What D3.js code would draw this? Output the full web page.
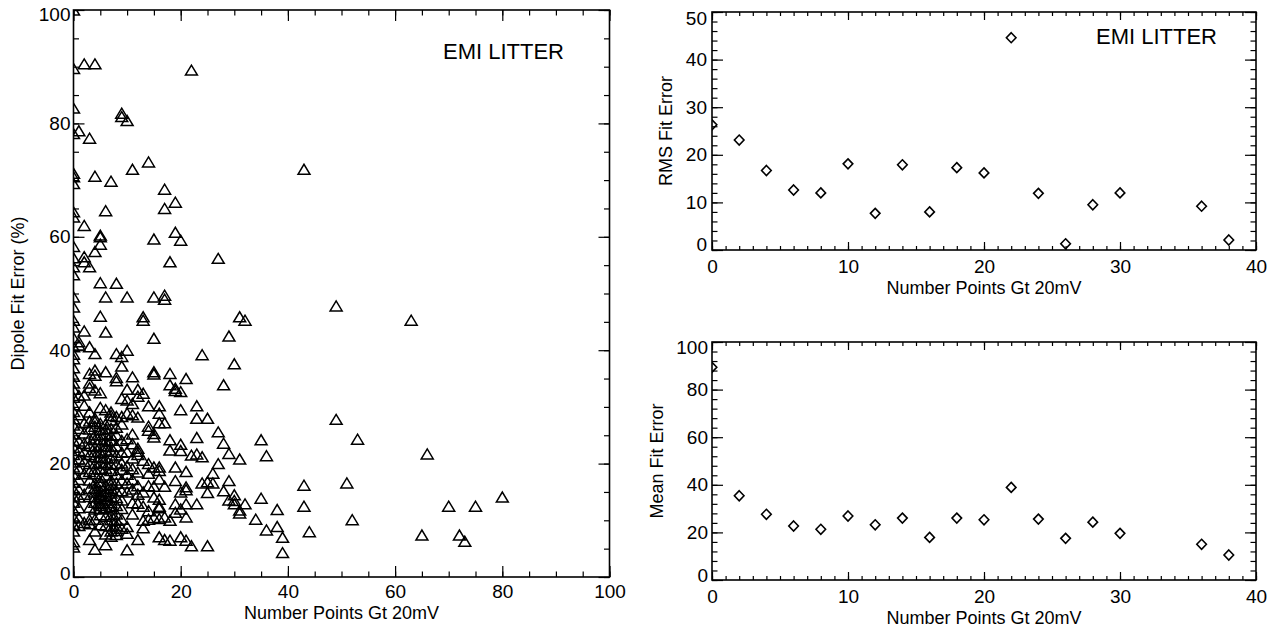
<!DOCTYPE html>
<html>
<head>
<meta charset="utf-8">
<script src="https://cdn.jsdelivr.net/npm/d3@7"></script>
<style>
  body { margin: 0; background: #fff; }
  svg { display: block; font-family: "Liberation Sans", Arial, Helvetica, sans-serif; }
</style>
</head>
<body>
<svg id="chart" width="1268" height="632"></svg>
<script>
// ---- Data -------------------------------------------------------------
// Each anomaly: [number of points above 20 mV, dipole fit error in %]
const dipolePoints = [
  [0,100],[0,89.7],[0,82.7],[0,78.2],[0,71.2],[0,70.6],[0,69.4],[0,64.4],[0,63.5],[0,58.3],
  [0,56.3],[0,54.7],[0,53.3],[0,49.4],[0,47.6],[0,45.3],[0,44.1],[0,42.2],[0,40.6],[0,39.3],
  [0,38.5],[0,36.9],[0,35.4],[0,34.2],[0,33.1],[0,31.7],[0,30.4],[0,29.2],[0,27.9],[0,26.8],
  [0,25.2],[0,24.1],[0,22.9],[0,21.6],[0,20.3],[0,19.4],[0,18.1],[0,16.7],[0,15.5],[0,14.3],
  [0,13.2],[0,11.8],[0,10.6],[0,9.3],[0,8.1],[0,6.2],[0,5.3],
  [1,78.7],[1,41.5],[1,40.9],[1,32.0],[1,28.6],[1,26.2],[1,24.0],[1,22.3],[1,20.8],[1,19.1],
  [1,17.2],[1,15.4],[1,14.1],[1,12.2],[1,10.4],[1,9.1],
  [2,90.5],[2,62.0],[2,56.5],[2,55.6],[2,43.4],[2,32.1],[2,30.3],[2,27.2],[2,25.4],[2,23.6],
  [2,22.1],[2,20.4],[2,18.2],[2,14.6],[2,9.6],
  [3,77.4],[3,54.7],[3,40.6],[3,35.9],[3,34.2],[3,33.4],[3,29.1],[3,27.5],[3,26.1],[3,24.5],
  [3,23.2],[3,21.6],[3,20.0],[3,18.6],[3,17.1],[3,15.6],[3,14.2],[3,12.3],[3,10.1],[3,9.4],[3,6.6],
  [4,90.5],[4,70.7],[4,57.4],[4,39.4],[4,36.5],[4,35.6],[4,33.0],[4,28.0],[4,27.4],[4,26.6],
  [4,25.1],[4,24.2],[4,23.0],[4,22.1],[4,21.2],[4,20.0],[4,19.1],[4,18.2],[4,16.6],[4,15.7],
  [4,15.0],[4,14.1],[4,13.2],[4,12.0],[4,10.2],[4,8.1],[4,4.9],
  [5,60.3],[5,60.0],[5,58.7],[5,51.9],[5,46.0],[5,32.5],[5,29.9],[5,27.1],[5,26.0],[5,25.1],
  [5,24.3],[5,23.2],[5,22.0],[5,21.1],[5,20.2],[5,19.0],[5,17.6],[5,16.8],[5,16.1],[5,15.2],
  [5,14.6],[5,14.2],[5,13.9],[5,13.0],[5,12.6],[5,12.1],[5,11.0],[5,9.2],
  [6,64.6],[6,49.4],[6,43.2],[6,36.2],[6,29.5],[6,27.0],[6,26.1],[6,25.2],[6,24.0],[6,23.1],
  [6,22.4],[6,21.0],[6,20.1],[6,19.2],[6,18.0],[6,16.2],[6,15.1],[6,14.4],[6,13.6],[6,12.2],
  [6,10.7],[6,9.1],[6,7.6],[6,5.7],
  [7,69.8],[7,29.1],[7,28.5],[7,27.7],[7,26.2],[7,25.0],[7,24.1],[7,23.0],[7,22.2],[7,21.0],
  [7,19.9],[7,18.8],[7,17.1],[7,16.3],[7,15.6],[7,14.8],[7,14.2],[7,13.1],[7,12.5],[7,12.0],
  [7,11.0],[7,10.1],[7,9.0],[7,8.1],[7,7.2],
  [8,51.8],[8,39.4],[8,35.2],[8,34.6],[8,28.3],[8,26.4],[8,25.1],[8,23.1],[8,21.5],[8,20.0],
  [8,18.1],[8,16.6],[8,15.2],[8,14.0],[8,12.6],[8,11.1],[8,10.0],[8,9.1],[8,8.2],[8,7.5],
  [9,81.8],[9,81.2],[9,38.9],[9,37.2],[9,31.5],[9,28.3],[9,27.0],[9,24.1],[9,22.0],[9,20.1],
  [9,19.0],[9,17.1],[9,15.2],[9,13.6],[9,12.1],[9,10.2],[9,8.6],
  [10,80.5],[10,49.4],[10,40.0],[10,33.1],[10,31.2],[10,28.9],[10,24.4],[10,22.1],[10,19.6],
  [10,18.1],[10,16.6],[10,15.0],[10,8.9],[10,7.7],[10,4.8],
  [11,71.9],[11,35.3],[11,30.6],[11,28.6],[11,25.2],[11,23.5],[11,21.0],[11,19.1],[11,17.2],
  [11,15.5],[11,13.1],[11,11.1],
  [12,33.1],[12,31.9],[12,28.2],[12,22.7],[12,22.2],[12,21.6],[12,18.5],[12,16.1],[12,14.6],
  [12,13.0],[12,6.6],
  [13,45.9],[13,45.3],[13,32.4],[13,20.6],[13,15.0],[13,12.5],[13,10.0],[13,8.7],
  [14,73.2],[14,30.2],[14,26.6],[14,25.9],[14,20.0],[14,18.3],[14,16.1],[14,11.7],[14,10.2],
  [15,59.6],[15,49.4],[15,42.1],[15,36.2],[15,35.8],[15,25.3],[15,24.7],[15,19.4],[15,16.0],
  [15,14.1],[15,10.5],
  [16,30.2],[16,28.9],[16,27.2],[16,19.4],[16,18.8],[16,17.3],[16,13.7],[16,12.5],[16,12.2],
  [16,10.3],[16,7.1],
  [17,68.4],[17,65.0],[17,49.7],[17,49.0],[17,27.2],[17,16.0],[17,10.6],[17,6.6],
  [18,55.6],[18,35.9],[18,33.9],[18,24.2],[18,22.4],[18,10.0],[18,6.5],
  [19,66.1],[19,60.8],[19,33.3],[19,32.9],[19,19.4],[19,17.0],[19,12.9],[19,11.4],
  [20,59.4],[20,32.7],[20,29.5],[20,23.4],[20,22.3],[20,15.0],[20,12.0],[20,7.1],
  [21,35.0],[21,18.6],[21,15.9],[21,15.4],[21,12.9],[21,10.6],[21,6.5],
  [22,89.4],[22,21.5],[22,5.5],
  [23,30.2],[23,28.0],[23,24.6],[23,21.7],[23,12.9],
  [24,39.2],[24,21.2],[24,16.6],
  [25,28.0],[25,16.8],[25,14.9],[25,5.5],
  [26,18.3],[26,16.6],
  [27,56.2],[27,25.6],[27,20.0],
  [28,33.9],[28,23.6],[28,15.2],
  [29,42.5],[29,21.8],[29,17.0],[29,13.6],
  [30,37.6],[30,14.5],[30,13.5],[30,12.9],
  [31,45.9],[31,20.8],[31,11.8],[31,11.3],
  [32,45.3],[32,12.9],
  [34,10.2],
  [35,24.2],[35,13.9],
  [36,21.4],[36,8.3],
  [38,11.9],[38,8.9],
  [39,7.0],[39,4.3],
  [43,71.9],[43,16.2],[43,12.5],
  [44,8.0],
  [49,47.8],[49,27.8],
  [51,16.6],[52,10.1],[53,24.3],
  [63,45.3],[65,7.4],[66,21.7],
  [70,12.5],[72,7.4],[73,6.3],[75,12.5],[80,14.1]
];

// Binned statistics against the number of points above 20 mV
const binCounts    = [0, 2, 4, 6, 8, 10, 12, 14, 16, 18, 20, 22, 24, 26, 28, 30, 36, 38];
const rmsFitError  = [26.3, 23.1, 16.7, 12.6, 12.0, 18.1, 7.7, 17.9, 8.0, 17.3, 16.2, 44.6, 11.9, 1.3, 9.5, 12.0, 9.2, 2.1];
const meanFitError = [89.4, 35.4, 27.6, 22.7, 21.3, 26.9, 23.2, 26.0, 17.9, 26.0, 25.3, 38.9, 25.6, 17.5, 24.3, 19.6, 15.0, 10.5];

// Tick labels
const dipoleXTicks = [0, 20, 40, 60, 80, 100];
const dipoleYTicks = [0, 20, 40, 60, 80, 100];
const binXTicks    = [0, 10, 20, 30, 40];
const rmsYTicks    = [0, 10, 20, 30, 40, 50];
const meanYTicks   = [0, 20, 40, 60, 80, 100];

// ---- Drawing ----------------------------------------------------------
const svg = d3.select("#chart");
const defs = svg.append("defs");
const FONT = "'Liberation Sans', Arial, Helvetica, sans-serif";

function styleAxis(sel, fontSize) {
  sel.select(".domain").remove();
  sel.attr("font-family", FONT).attr("font-size", fontSize);
  sel.selectAll(".tick line").attr("stroke", "#000").attr("stroke-width", 1.2);
  sel.selectAll(".tick text").attr("fill", "#000");
}

function panel(o) {
  const x = d3.scaleLinear().domain(o.xDomain).range([o.left, o.right]);
  const y = d3.scaleLinear().domain(o.yDomain).range([o.bottom, o.top]);
  const g = svg.append("g");

  defs.append("clipPath").attr("id", o.id)
    .append("rect")
    .attr("x", o.left).attr("y", o.top)
    .attr("width", o.right - o.left).attr("height", o.bottom - o.top);

  const fs = 19;
  // bottom axis with labels
  g.append("g").attr("transform", `translate(0,${o.bottom})`)
    .call(d3.axisBottom(x).tickValues(o.xTicks).tickSize(-o.xLen).tickPadding(o.xPad).tickFormat(d3.format("d")))
    .call(s => styleAxis(s, fs));
  g.append("g").attr("transform", `translate(0,${o.bottom})`)
    .call(d3.axisBottom(x).tickValues(o.xMinor).tickSize(-o.xLen / 2).tickFormat(""))
    .call(s => styleAxis(s, fs));
  // top axis (ticks only)
  g.append("g").attr("transform", `translate(0,${o.top})`)
    .call(d3.axisTop(x).tickValues(o.xTicks).tickSize(-o.xLen).tickFormat(""))
    .call(s => styleAxis(s, fs));
  g.append("g").attr("transform", `translate(0,${o.top})`)
    .call(d3.axisTop(x).tickValues(o.xMinor).tickSize(-o.xLen / 2).tickFormat(""))
    .call(s => styleAxis(s, fs));
  // left axis with labels
  const la = g.append("g").attr("transform", `translate(${o.left},0)`)
    .call(d3.axisLeft(y).tickValues(o.yTicks).tickSize(-o.yLen).tickPadding(o.yPad).tickFormat(d3.format("d")))
    .call(s => styleAxis(s, fs));
  // keep the end labels inside the axis span
  la.selectAll(".tick text")
    .attr("transform", d => d === o.yDomain[0] ? `translate(0,${-o.endShift})`
                           : d === o.yDomain[1] ? `translate(0,${o.endShift})` : null);
  g.append("g").attr("transform", `translate(${o.left},0)`)
    .call(d3.axisLeft(y).tickValues(o.yMinor).tickSize(-o.yLen / 2).tickFormat(""))
    .call(s => styleAxis(s, fs));
  // right axis (ticks only)
  g.append("g").attr("transform", `translate(${o.right},0)`)
    .call(d3.axisRight(y).tickValues(o.yTicks).tickSize(-o.yLen).tickFormat(""))
    .call(s => styleAxis(s, fs));
  g.append("g").attr("transform", `translate(${o.right},0)`)
    .call(d3.axisRight(y).tickValues(o.yMinor).tickSize(-o.yLen / 2).tickFormat(""))
    .call(s => styleAxis(s, fs));

  // frame
  g.append("rect")
    .attr("x", o.left).attr("y", o.top)
    .attr("width", o.right - o.left).attr("height", o.bottom - o.top)
    .attr("fill", "none").attr("stroke", "#000").attr("stroke-width", 1.6);

  // titles
  g.append("text")
    .attr("x", (o.left + o.right) / 2).attr("y", o.xTitleY)
    .attr("text-anchor", "middle").attr("font-family", FONT).attr("font-size", 18)
    .text(o.xTitle);
  g.append("text")
    .attr("transform", `translate(${o.yTitleX},${(o.top + o.bottom) / 2}) rotate(-90)`)
    .attr("text-anchor", "middle").attr("font-family", FONT).attr("font-size", 18)
    .text(o.yTitle);

  const marks = g.append("g").attr("clip-path", `url(#${o.id})`);
  return { x, y, g, marks };
}

// Left: dipole fit error for every anomaly
const left = panel({
  id: "clip-dipole", left: 73.5, right: 609.5, top: 10, bottom: 577,
  xDomain: [0, 100], yDomain: [0, 100],
  xTicks: dipoleXTicks, xMinor: d3.range(0, 101, 5),
  yTicks: dipoleYTicks, yMinor: d3.range(0, 101, 5),
  xLen: 11, yLen: 11, xPad: 8, yPad: 3, endShift: 4,
  xTitle: "Number Points Gt 20mV", xTitleY: 619,
  yTitle: "Dipole Fit Error (%)", yTitleX: 24
});
const triangle = "M-6,5L0,-5L6,5Z";
left.marks.selectAll("path").data(dipolePoints).join("path")
  .attr("d", triangle)
  .attr("transform", d => `translate(${left.x(d[0])},${left.y(d[1])})`)
  .attr("fill", "none").attr("stroke", "#000").attr("stroke-width", 1.5)
  .attr("stroke-linejoin", "miter");
left.g.append("text").attr("x", 443).attr("y", 59)
  .attr("font-family", FONT).attr("font-size", 22).text("EMI LITTER");

const diamond = "M0,-5L4.8,0L0,5L-4.8,0Z";
const binData = (vals) => binCounts.map((c, i) => [c, vals[i]]);

// Top right: RMS of the fit error per bin
const rms = panel({
  id: "clip-rms", left: 712, right: 1256, top: 12, bottom: 250,
  xDomain: [0, 40], yDomain: [0, 50],
  xTicks: binXTicks, xMinor: d3.range(0, 41, 1),
  yTicks: rmsYTicks, yMinor: d3.range(0, 51, 2),
  xLen: 8, yLen: 11, xPad: 10, yPad: 5, endShift: 6,
  xTitle: "Number Points Gt 20mV", xTitleY: 294,
  yTitle: "RMS Fit Error", yTitleX: 672
});
rms.marks.selectAll("path").data(binData(rmsFitError)).join("path")
  .attr("d", diamond)
  .attr("transform", d => `translate(${rms.x(d[0])},${rms.y(d[1])})`)
  .attr("fill", "none").attr("stroke", "#000").attr("stroke-width", 1.6);
rms.g.append("text").attr("x", 1096).attr("y", 44)
  .attr("font-family", FONT).attr("font-size", 22).text("EMI LITTER");

// Bottom right: mean fit error per bin
const mean = panel({
  id: "clip-mean", left: 712, right: 1256, top: 342, bottom: 580,
  xDomain: [0, 40], yDomain: [0, 100],
  xTicks: binXTicks, xMinor: d3.range(0, 41, 1),
  yTicks: meanYTicks, yMinor: d3.range(0, 101, 4),
  xLen: 8, yLen: 11, xPad: 10, yPad: 4, endShift: 5,
  xTitle: "Number Points Gt 20mV", xTitleY: 624,
  yTitle: "Mean Fit Error", yTitleX: 663
});
mean.marks.selectAll("path").data(binData(meanFitError)).join("path")
  .attr("d", diamond)
  .attr("transform", d => `translate(${mean.x(d[0])},${mean.y(d[1])})`)
  .attr("fill", "none").attr("stroke", "#000").attr("stroke-width", 1.6);
</script>
</body>
</html>
